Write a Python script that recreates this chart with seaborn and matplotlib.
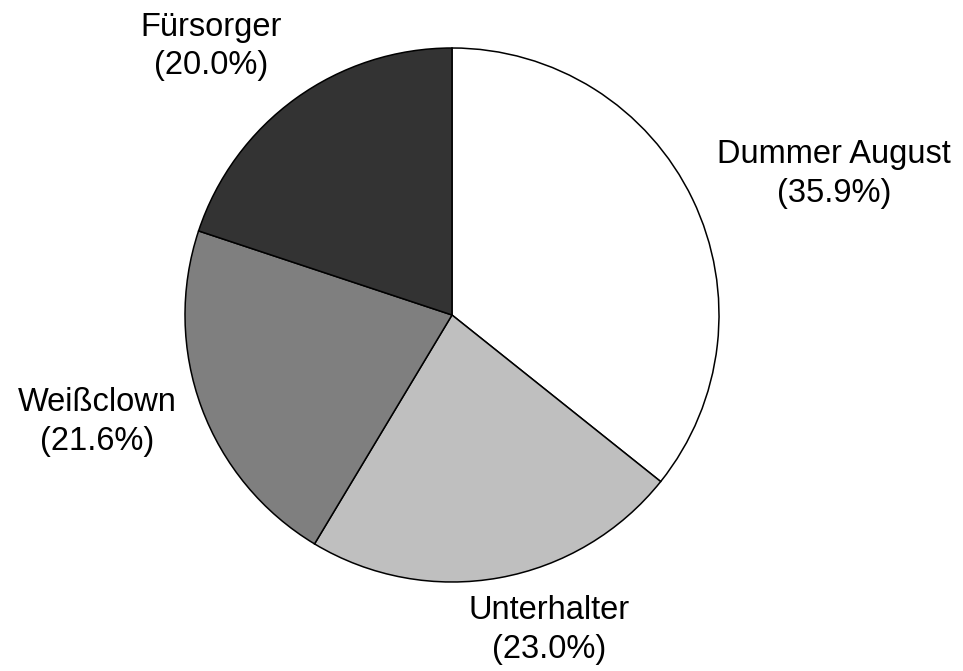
import matplotlib
matplotlib.use("Agg")
import matplotlib.pyplot as plt
import seaborn as sns

# --- data ---
categories = ["Dummer August", "Unterhalter", "Weißclown", "Fürsorger"]
shares = [35.9, 23.0, 21.6, 20.0]
colors = ["#ffffff", "#bfbfbf", "#7f7f7f", "#333333"]
# label centres, in units of the pie radius
label_pos = [(1.431, 0.528), (0.363, -1.180), (-1.330, -0.401), (-0.903, 1.007)]

sns.set_style("white")
plt.rcParams["font.family"] = ["Liberation Sans", "DejaVu Sans"]
plt.rcParams["text.color"] = "black"

fig = plt.figure(figsize=(9.63, 6.71), dpi=100)
ax = fig.add_axes([0, 0, 1, 1])

wedges, _ = ax.pie(shares, colors=colors, startangle=90, counterclock=False,
                   wedgeprops={"edgecolor": "black", "linewidth": 1.1})

for name, val, (x, y) in zip(categories, shares, label_pos):
    ax.text(x, y, f"{name}\n({val:.1f}%)", ha="center", va="center",
            multialignment="center", fontsize=23.5, linespacing=1.3,
            color="black")

# centre of the pie at (452, 315) px, radius 267 px
r = 267
ax.set_xlim(-452 / r, (963 - 452) / r)
ax.set_ylim(-(671 - 315) / r, 315 / r)
ax.set_aspect("auto")
ax.axis("off")

fig.savefig("out.png", dpi=100, facecolor="white")
